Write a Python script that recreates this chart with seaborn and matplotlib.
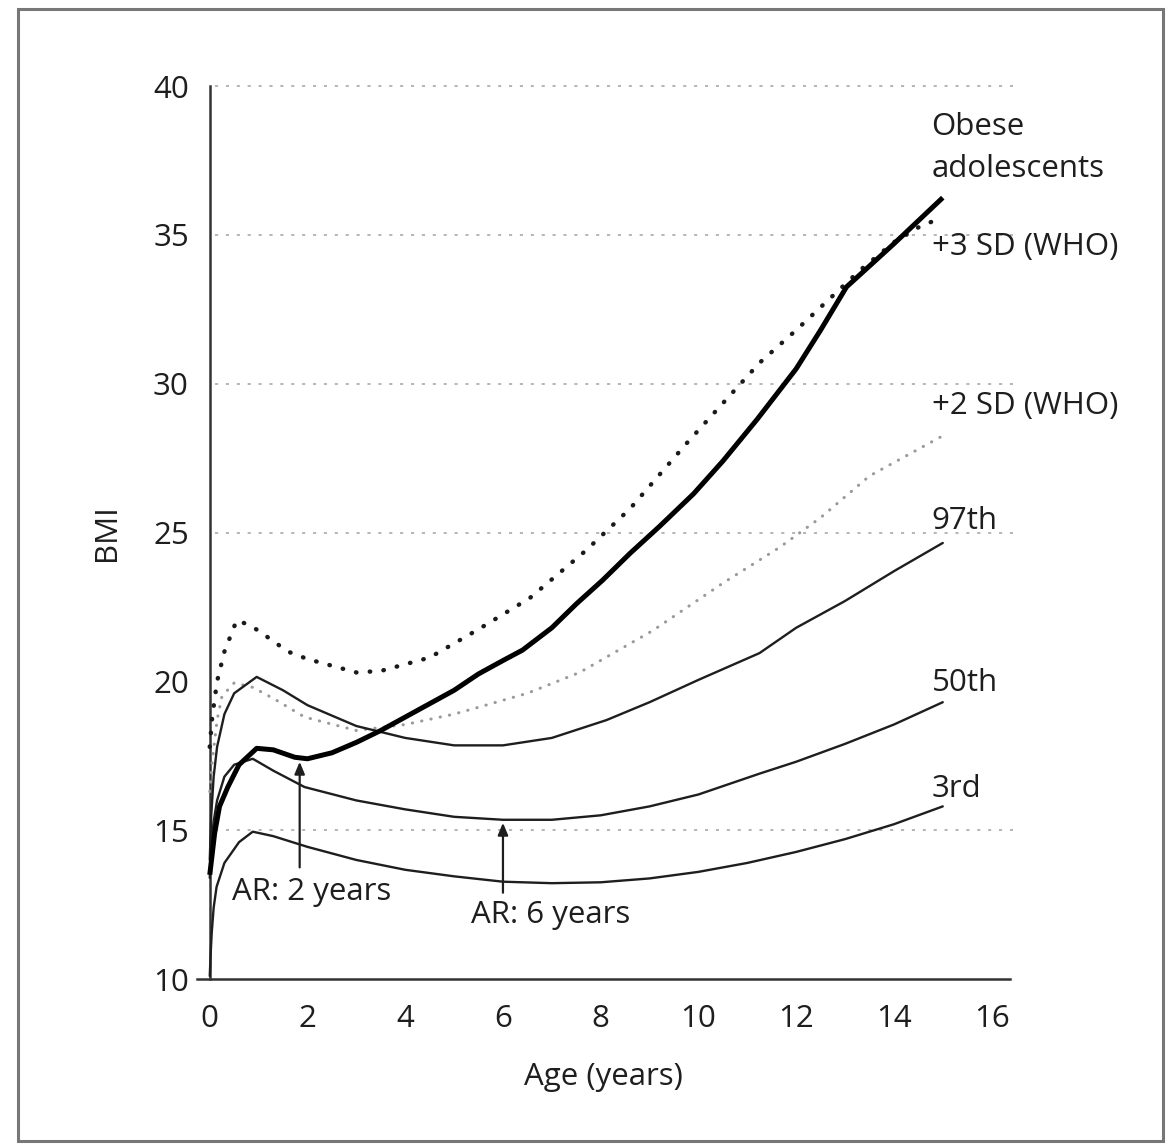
import numpy as np
import pandas as pd
import matplotlib
matplotlib.use("Agg")
import matplotlib.pyplot as plt
from matplotlib.patches import Rectangle
import seaborn as sns

# ── Data ────────────────────────────────────────────────
obese_age = [0, 0.05, 0.1, 0.2, 0.37, 0.6, 0.96, 1.3, 1.74, 2.0, 2.5, 3.0, 3.5, 4.0, 5.0,
             5.5, 6.0, 6.4, 7.0, 7.5, 8.04, 8.6, 9.2, 9.9, 10.5, 11.2, 12.0, 12.5, 13.03, 14.0, 15.0]
obese_bmi = [13.5, 14.2, 14.9, 15.8, 16.45, 17.2, 17.75, 17.7, 17.45, 17.4, 17.6, 17.95, 18.35, 18.8, 19.7,
             20.25, 20.7, 21.05, 21.8, 22.6, 23.4, 24.3, 25.2, 26.3, 27.4, 28.8, 30.5, 31.8, 33.25, 34.7, 36.25]

sd3_age = [0, 0.05, 0.15, 0.3, 0.55, 0.8, 1.0, 1.6, 2.0, 3.0, 3.5, 4.5, 5.5, 6.55, 7.7, 8.6,
           9.76, 10.2, 11.25, 12.0, 13.3, 14.0, 14.5, 15.0]
sd3_bmi = [17.8, 18.8, 20.0, 21.0, 22.05, 21.9, 21.7, 21.0, 20.75, 20.3, 20.35, 20.8, 21.75, 22.8, 24.4, 25.8,
           28.0, 28.8, 30.7, 31.8, 33.8, 34.75, 35.25, 35.6]

sd2_age = [0, 0.05, 0.15, 0.25, 0.5, 0.88, 1.33, 1.94, 3.0, 4.0, 5.0, 5.52, 6.5, 7.57, 9.06,
           10.5, 11.66, 12.5, 13.5, 14.5, 15.0]
sd2_bmi = [16.3, 17.3, 18.7, 19.5, 19.95, 19.8, 19.4, 18.8, 18.35, 18.55, 18.9, 19.14, 19.6, 20.3, 21.7,
           23.3, 24.5, 25.5, 26.9, 27.8, 28.25]

p97_age = [0, 0.03, 0.08, 0.15, 0.3, 0.5, 0.96, 1.5, 2.0, 3.0, 4.0, 5.0, 6.0, 7.0, 8.12, 9.0,
           10.0, 11.25, 12.0, 13.0, 14.0, 15.0]
p97_bmi = [14.0, 15.5, 16.8, 17.8, 18.9, 19.6, 20.15, 19.7, 19.2, 18.5, 18.1, 17.85, 17.85, 18.1, 18.7, 19.3,
           20.05, 20.95, 21.8, 22.7, 23.7, 24.65]

p50_age = [0, 0.03, 0.08, 0.15, 0.3, 0.5, 0.88, 1.3, 1.94, 3.0, 4.0, 5.0, 6.0, 7.0, 8.0, 9.0,
           10.0, 11.25, 12.0, 13.0, 14.0, 15.0]
p50_bmi = [13.4, 14.5, 15.3, 16.0, 16.8, 17.2, 17.4, 17.0, 16.45, 16.0, 15.7, 15.45, 15.35, 15.35, 15.5, 15.8,
           16.2, 16.9, 17.3, 17.9, 18.55, 19.3]

p3_age = [0, 0.02, 0.04, 0.08, 0.14, 0.3, 0.6, 0.88, 1.3, 2.0, 3.0, 4.0, 5.0, 6.0, 7.0, 8.0,
          9.0, 10.0, 11.0, 12.0, 13.0, 14.0, 15.0]
p3_bmi = [10.1, 10.9, 11.55, 12.4, 13.1, 13.9, 14.6, 14.95, 14.8, 14.44, 14.0, 13.67, 13.45, 13.27, 13.22, 13.25,
          13.38, 13.6, 13.9, 14.27, 14.7, 15.2, 15.8]

grid_levels = [15, 25, 30, 35, 40]
x_ticks = [0, 2, 4, 6, 8, 10, 12, 14, 16]
y_ticks = [10, 15, 20, 25, 30, 35, 40]

# ── Config ──────────────────────────────────────────────
sns.set_theme(style="white")
plt.rcParams['font.family'] = ['Open Sans', 'DejaVu Sans']
INK = "#1e1e1e"
TXT = 22.5

fig = plt.figure(figsize=(11.7, 11.44), dpi=100)
fig.patch.set_facecolor('white')
ax = fig.add_axes([0.168, 0.1442, 0.695, 0.7806])

# grey frame around the whole figure
fig.patches.append(Rectangle((18 / 1170, 1 - 1141 / 1144), (1163 - 18) / 1170, (1141 - 9) / 1144,
                             transform=fig.transFigure, fill=False, edgecolor="#777777", lw=2.2))

# dotted reference lines
for lv in grid_levels:
    ax.hlines(lv, 0.1, 16.45, colors="#b5b5b5", linestyles=(0, (1.6, 4.0)), lw=1.4, clip_on=False, zorder=1)

dot3 = dict(color="#1a1a1a", lw=3.2, linestyle=(0, (0.1, 3.0)), dash_capstyle='round')
dot2 = dict(color="#9a9a9a", lw=2.2, linestyle=(0, (0.1, 3.0)), dash_capstyle='round')

sns.lineplot(x=sd3_age, y=sd3_bmi, ax=ax, sort=False, estimator=None, zorder=3, **dot3)
sns.lineplot(x=sd2_age, y=sd2_bmi, ax=ax, sort=False, estimator=None, zorder=3, **dot2)
for a, b in [(p97_age, p97_bmi), (p50_age, p50_bmi), (p3_age, p3_bmi)]:
    sns.lineplot(x=a, y=b, ax=ax, sort=False, estimator=None, color=INK, lw=1.7, zorder=4)
sns.lineplot(x=obese_age, y=obese_bmi, ax=ax, sort=False, estimator=None, color="black", lw=3.6,
             solid_capstyle='butt', zorder=5)

# adiposity rebound arrows
arrow = dict(arrowstyle="-|>,head_length=0.6,head_width=0.25", color=INK, lw=1.6, shrinkA=0, shrinkB=0)
ax.annotate("", xy=(1.84, 17.3), xytext=(1.84, 13.75), arrowprops=arrow, zorder=6)
ax.annotate("", xy=(6.0, 15.25), xytext=(6.0, 12.9), arrowprops=arrow, zorder=6)
ax.text(0.45, 12.93, "AR: 2 years", fontsize=TXT, color=INK, va='center', ha='left')
ax.text(6.98, 12.15, "AR: 6 years", fontsize=TXT, color=INK, va='center', ha='center')

# curve labels on the right
lab_x = 14.77
ax.text(lab_x, 38.62, "Obese", fontsize=TXT, color=INK, va='center', clip_on=False)
ax.text(lab_x, 37.2, "adolescents", fontsize=TXT, color=INK, va='center', clip_on=False)
ax.text(lab_x, 34.6, "+3 SD (WHO)", fontsize=TXT, color=INK, va='center', clip_on=False)
ax.text(lab_x, 29.25, "+2 SD (WHO)", fontsize=TXT, color=INK, va='center', clip_on=False)
ax.text(lab_x, 25.4, "97th", fontsize=TXT, color=INK, va='center', clip_on=False)
ax.text(lab_x, 19.95, "50th", fontsize=TXT, color=INK, va='center', clip_on=False)
ax.text(lab_x, 16.4, "3rd", fontsize=TXT, color=INK, va='center', clip_on=False)

# axes
ax.set_xlim(-0.27, 16.37)
ax.set_ylim(10, 40)
ax.spines['left'].set_position(('data', 0))
ax.spines['top'].set_visible(False)
ax.spines['right'].set_visible(False)
for s in ['left', 'bottom']:
    ax.spines[s].set_color("#333333")
    ax.spines[s].set_linewidth(1.8)
ax.set_xticks(x_ticks)
ax.set_yticks(y_ticks)
ax.tick_params(axis='both', direction='out', length=8, width=1.6, color="#333333",
               labelsize=TXT, labelcolor=INK)
ax.tick_params(axis='x', pad=10)
ax.tick_params(axis='y', pad=7)
ax.set_xlabel("Age (years)", fontsize=TXT, color=INK, labelpad=20)
ax.set_ylabel("BMI", fontsize=TXT, color=INK)
ax.yaxis.set_label_coords(-0.092, 0.5)
ax.grid(False)
ax.set_facecolor('white')

plt.savefig("out.png", dpi=100, facecolor='white')
plt.close()
